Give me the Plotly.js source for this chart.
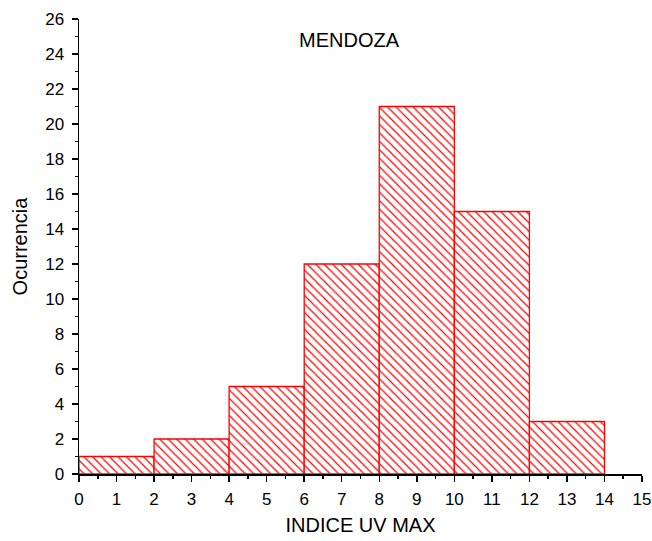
<!DOCTYPE html>
<html><head><meta charset="utf-8">
<script src="https://cdn.plot.ly/plotly-3.0.1.min.js"></script>
<style>html,body{margin:0;padding:0;background:#fff}</style>
</head><body>
<div id="chart" style="width:652px;height:541px"></div>
<script>
const binCenters = [1, 3, 5, 7, 9, 11, 13];
const binWidths = [2, 2, 2, 2, 2, 2, 2];
const counts = [1, 2, 5, 12, 21, 15, 3];
const xTicks = [0,1,2,3,4,5,6,7,8,9,10,11,12,13,14,15];
const yTicks = [0,2,4,6,8,10,12,14,16,18,20,22,24,26];

const trace = {
  type: 'bar', x: binCenters, y: counts, width: binWidths,
  marker: {color: 'white', line: {color: '#ff0000', width: 1.3},
    pattern: {shape: '\\', fgcolor: '#ff0000', bgcolor: 'white', size: 6, solidity: 0.2}},
  hoverinfo: 'x+y'
};
const font = {family: 'Arial, Liberation Sans, sans-serif', color: '#000'};
const layout = {
  width: 652, height: 541,
  margin: {l: 79, r: 10, t: 19, b: 67},
  paper_bgcolor: 'white', plot_bgcolor: 'white',
  showlegend: false, bargap: 0,
  font: Object.assign({size: 17}, font),
  xaxis: {range: [0, 15], tickvals: xTicks, ticktext: xTicks.map(String),
    ticks: 'outside', ticklen: 6, tickwidth: 1.5, tickcolor: '#000',
    showline: true, linecolor: '#000', linewidth: 1.5, showgrid: false, zeroline: false,
    ticklabelstandoff: 3,
    minor: {dtick: 0.5, tick0: 0, ticks: 'outside', ticklen: 3, tickwidth: 1.5, tickcolor: '#000', showgrid: false},
    tickfont: {size: 17}, title: {text: 'INDICE UV MAX', font: {size: 20}, standoff: 10}},
  yaxis: {range: [0, 26], tickvals: yTicks, ticktext: yTicks.map(String),
    ticks: 'outside', ticklen: 6, tickwidth: 1.5, tickcolor: '#000',
    showline: true, linecolor: '#000', linewidth: 1.5, showgrid: false, zeroline: false,
    ticklabelstandoff: 4,
    minor: {dtick: 1, tick0: 0, ticks: 'outside', ticklen: 3, tickwidth: 1.5, tickcolor: '#000', showgrid: false},
    tickfont: {size: 17}, title: {text: 'Ocurrencia', font: {size: 20}, standoff: 12}},
  annotations: [{text: 'MENDOZA', x: 7.22, y: 24.8, xref: 'x', yref: 'y', showarrow: false,
    font: {size: 20}}]
};
Plotly.newPlot('chart', [trace], layout, {displayModeBar: false, staticPlot: true});
</script>
</body></html>
